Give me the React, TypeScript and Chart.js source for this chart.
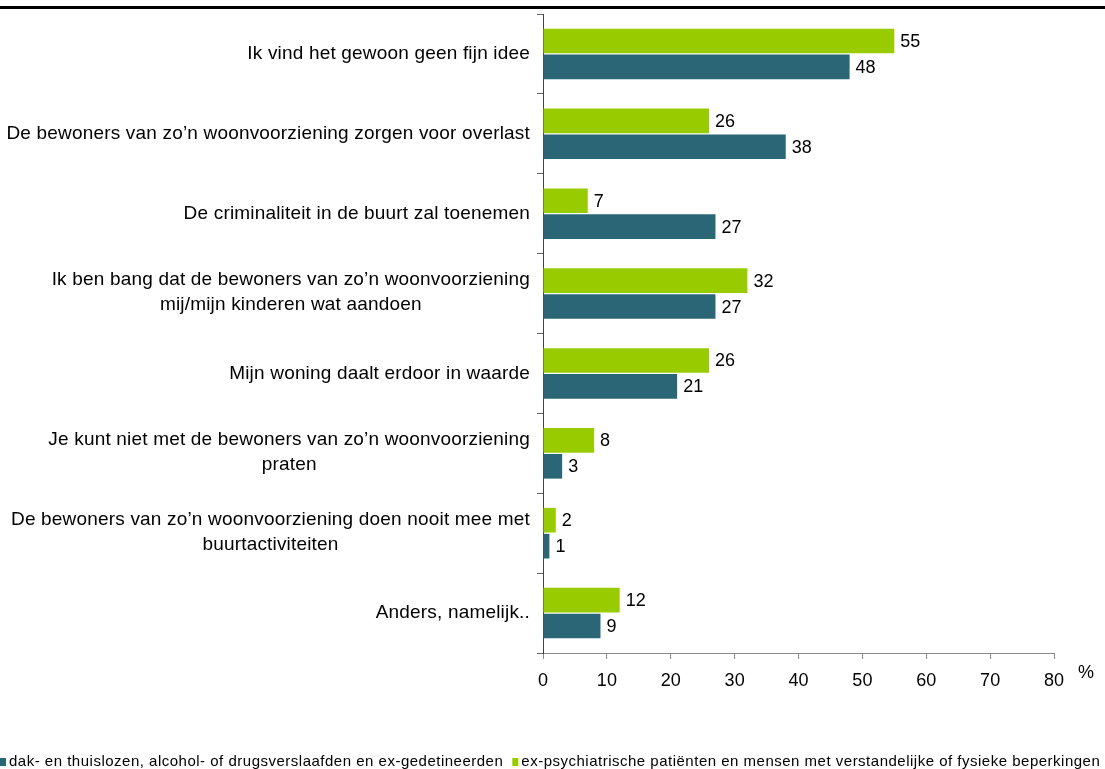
import React, { useEffect, useRef } from "react";
import { Chart, registerables } from "chart.js";

Chart.register(...registerables);

const categories: (string | string[])[] = [
  "Ik vind het gewoon geen fijn idee",
  "De bewoners van zo’n woonvoorziening zorgen voor overlast",
  "De criminaliteit in de buurt zal toenemen",
  ["Ik ben bang dat de bewoners van zo’n woonvoorziening", "mij/mijn kinderen wat aandoen"],
  "Mijn woning daalt erdoor in waarde",
  ["Je kunt niet met de bewoners van zo’n woonvoorziening", "praten"],
  ["De bewoners van zo’n woonvoorziening doen nooit mee met", "buurtactiviteiten"],
  "Anders, namelijk..",
];

const seriesGreenLabel =
  "ex-psychiatrische patiënten en mensen met verstandelijke of fysieke beperkingen";
const seriesTealLabel =
  "dak- en thuislozen, alcohol- of drugsverslaafden en ex-gedetineerden";

const greenValues = [55, 26, 7, 32, 26, 8, 2, 12];
const tealValues = [48, 38, 27, 27, 21, 3, 1, 9];

const xMin = 0;
const xMax = 80;
const xStep = 10;
const unitLabel = "%";

const GREEN = "#99CC00";
const TEAL = "#2B6676";
const FONT = "'Liberation Sans', Arial, Helvetica, sans-serif";

const decorPlugin = {
  id: "decor",
  afterDraw(chart: any) {
    const ctx = chart.ctx as CanvasRenderingContext2D;
    const area = chart.chartArea;
    const yScale = chart.scales.y;
    ctx.save();
    // top rule
    ctx.fillStyle = "#000";
    ctx.fillRect(0, 6, chart.width, 3);

    // y category labels: block right-aligned, lines centered
    ctx.font = `19px ${FONT}`;
    (ctx as any).letterSpacing = "0.18px";
    ctx.fillStyle = "#000";
    ctx.textBaseline = "middle";
    ctx.textAlign = "center";
    const rightEdge = 530;
    const lh = 25;
    (chart.data.labels as (string | string[])[]).forEach((lab, i) => {
      const lines = Array.isArray(lab) ? lab : [lab];
      const widest = Math.max(...lines.map((l) => ctx.measureText(l).width));
      const cx = rightEdge - widest / 2;
      const cy = yScale.getPixelForValue(i);
      const start = cy - ((lines.length - 1) * lh) / 2 - (lines.length > 1 ? 1 : 0);
      lines.forEach((l, k) => ctx.fillText(l, cx, start + k * lh));
    });
    (ctx as any).letterSpacing = "0px";

    // value labels
    ctx.font = `18px ${FONT}`;
    ctx.textAlign = "left";
    chart.data.datasets.forEach((ds: any, di: number) => {
      const meta = chart.getDatasetMeta(di);
      meta.data.forEach((bar: any, i: number) => {
        ctx.fillText(String(ds.data[i]), bar.x + 6, bar.y + 1);
      });
    });

    // unit label
    ctx.fillText(unitLabel, area.right + 24, area.bottom + 20);

    // legend (reversed order)
    ctx.font = `15px ${FONT}`;
    (ctx as any).letterSpacing = "0.5px";
    let x = 0;
    const ly = 762;
    const items = [...chart.data.datasets].reverse();
    items.forEach((ds: any) => {
      ctx.fillStyle = ds.backgroundColor;
      ctx.fillRect(x, ly - 4, 6, 8);
      x += 9;
      ctx.fillStyle = "#000";
      ctx.fillText(ds.label, x, ly);
      x += ctx.measureText(ds.label).width + 9;
    });
    ctx.restore();
  },
};

export default function App() {
  const ref = useRef<HTMLCanvasElement | null>(null);
  useEffect(() => {
    document.body.style.margin = "0";
    const canvas = ref.current!;
    const chart = new Chart(canvas, {
      type: "bar",
      data: {
        labels: categories as any,
        datasets: [
          {
            label: seriesGreenLabel,
            data: greenValues,
            backgroundColor: GREEN,
            categoryPercentage: 0.65,
            barPercentage: 0.95,
          },
          {
            label: seriesTealLabel,
            data: tealValues,
            backgroundColor: TEAL,
            categoryPercentage: 0.65,
            barPercentage: 0.95,
          },
        ],
      },
      options: {
        indexAxis: "y",
        animation: false,
        responsive: false,
        layout: { padding: { left: 0, right: 51, top: 14, bottom: 40 } },
        plugins: {
          legend: { display: false },
          tooltip: { enabled: false },
        },
        scales: {
          x: {
            min: xMin,
            max: xMax,
            ticks: {
              stepSize: xStep,
              color: "#000",
              font: { family: FONT, size: 18 },
              padding: 11,
            },
            grid: {
              drawOnChartArea: false,
              drawTicks: true,
              tickLength: 6,
              color: "#888",
            },
            border: { color: "#888", width: 1 },
            afterFit: (s: any) => {
              s.height = 76;
            },
          },
          y: {
            ticks: { display: false },
            grid: {
              offset: true,
              drawOnChartArea: false,
              drawTicks: true,
              tickLength: 6,
              color: "#666",
            },
            border: { color: "#444", width: 1 },
            afterFit: (s: any) => {
              s.width = 543;
            },
          },
        },
      },
      plugins: [decorPlugin],
    });
    return () => chart.destroy();
  }, []);
  return <canvas ref={ref} width={1105} height={769} />;
}
